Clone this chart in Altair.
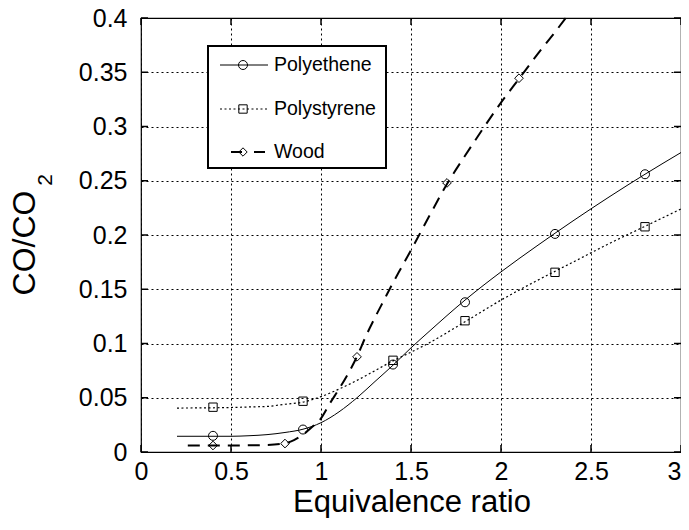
import altair as alt
import pandas as pd

# ---- fitted curves ----
pe_curve_x = [0.2, 0.5, 0.6, 0.7, 0.8, 0.9, 1.0, 1.1, 1.2, 1.3, 1.4, 1.5, 1.6, 1.8, 2.0, 2.2, 2.4, 2.6, 2.8, 3.0]
pe_curve_y = [0.0145, 0.0145, 0.015, 0.016, 0.018, 0.021, 0.027, 0.037, 0.050, 0.065, 0.080, 0.096, 0.111,
              0.140, 0.166, 0.190, 0.213, 0.235, 0.256, 0.276]

ps_curve_x = [0.2, 0.5, 0.6, 0.7, 0.8, 0.9, 1.0, 1.1, 1.2, 1.3, 1.4, 1.5, 1.6, 1.8, 2.0, 2.2, 2.4, 2.6, 2.8, 3.0]
ps_curve_y = [0.0405, 0.041, 0.0415, 0.042, 0.044, 0.046, 0.051, 0.058, 0.066, 0.075, 0.084, 0.092, 0.1005,
              0.120, 0.140, 0.158, 0.175, 0.192, 0.208, 0.224]

wd_curve_x = [0.26, 0.5, 0.7, 0.8, 0.85, 0.9, 0.95, 1.0, 1.05, 1.1, 1.15, 1.2, 1.25, 1.3, 1.35, 1.4, 1.45,
              1.5, 1.6, 1.7, 1.8, 1.9, 2.0, 2.1, 2.2, 2.3, 2.36]
wd_curve_y = [0.006, 0.006, 0.0065, 0.008, 0.011, 0.016, 0.023, 0.031, 0.045, 0.058, 0.072, 0.088, 0.107,
              0.124, 0.140, 0.156, 0.171, 0.186, 0.217, 0.247, 0.273, 0.298, 0.322, 0.344, 0.366, 0.387, 0.4]

# ---- measured points ----
pe_x = [0.4, 0.9, 1.4, 1.8, 2.3, 2.8]
pe_y = [0.0149, 0.0207, 0.0806, 0.138, 0.201, 0.256]
ps_x = [0.4, 0.9, 1.4, 1.8, 2.3, 2.8]
ps_y = [0.0413, 0.0468, 0.0845, 0.121, 0.1656, 0.2076]
wd_x = [0.4, 0.8, 1.2, 1.7, 2.1]
wd_y = [0.006, 0.0078, 0.0877, 0.248, 0.3445]

x_ticks = [0, 0.5, 1, 1.5, 2, 2.5, 3]
y_ticks = [0, 0.05, 0.1, 0.15, 0.2, 0.25, 0.3, 0.35, 0.4]

series_names = ["Polyethene", "Polystyrene", "Wood"]
y_title_main = "CO/CO"
y_title_sub = "2"
x_title = "Equivalence ratio"

W, H = 540, 434
FONT = "Liberation Sans"

x_axis = alt.Axis(values=x_ticks, format="~g", labelFontSize=25, labelFont=FONT, labelColor="black",
                  labelPadding=7, labelFlush=False, labelOverlap=False, ticks=False, tickSize=0,
                  labelAlign={"expr": "datum.value >= 3 ? 'right' : 'center'"},
                  domain=False, grid=True, gridColor="black", gridDash=[2, 3], gridWidth=1)
y_axis = alt.Axis(values=y_ticks, format="~g", labelFontSize=25, labelFont=FONT, labelColor="black",
                  labelPadding=14, labelFlush=False, labelOverlap=False, ticks=False, tickSize=0,
                  domain=False, grid=True, gridColor="black", gridDash=[2, 3], gridWidth=1)

xs = alt.Scale(domain=[0, 3], nice=False, zero=False)
ys = alt.Scale(domain=[0, 0.4], nice=False)


def X():
    return alt.X("x:Q", scale=xs, axis=x_axis, title=None)


def Y():
    return alt.Y("y:Q", scale=ys, axis=y_axis, title=None)


def df(xv, yv):
    return pd.DataFrame({"x": xv, "y": yv})


one = pd.DataFrame({"k": [0]})

pe_line = alt.Chart(df(pe_curve_x, pe_curve_y)).mark_line(
    color="black", strokeWidth=1, interpolate="monotone").encode(x=X(), y=Y())
ps_line = alt.Chart(df(ps_curve_x, ps_curve_y)).mark_line(
    color="black", strokeWidth=1.2, strokeDash=[2, 2.5], interpolate="monotone").encode(x=X(), y=Y())
wd_line = alt.Chart(df(wd_curve_x, wd_curve_y)).mark_line(
    color="black", strokeWidth=2, strokeDash=[12, 8], interpolate="monotone").encode(x=X(), y=Y())

pe_pts = alt.Chart(df(pe_x, pe_y)).mark_point(
    shape="circle", size=81, filled=False, color="black", strokeWidth=1, opacity=1).encode(x=X(), y=Y())
ps_pts = alt.Chart(df(ps_x, ps_y)).mark_point(
    shape="square", size=70, filled=False, color="black", strokeWidth=1, opacity=1).encode(x=X(), y=Y())
wd_pts = alt.Chart(df(wd_x, wd_y)).mark_point(
    shape="diamond", size=75, filled=False, color="black", strokeWidth=1, opacity=1).encode(x=X(), y=Y())

# inward ticks on all four sides
yt = pd.DataFrame({"y": y_ticks})
xt = pd.DataFrame({"x": x_ticks})
tick_l = alt.Chart(yt).mark_rule(color="black", strokeWidth=1.5).encode(
    y=Y(), x=alt.value(0), x2=alt.value(7))
tick_r = alt.Chart(yt).mark_rule(color="black", strokeWidth=1.5).encode(
    y=Y(), x=alt.value(W - 7), x2=alt.value(W))
tick_b = alt.Chart(xt).mark_rule(color="black", strokeWidth=1.5).encode(
    x=X(), y=alt.value(H), y2=alt.value(H - 7))
tick_t = alt.Chart(xt).mark_rule(color="black", strokeWidth=1.5).encode(
    x=X(), y=alt.value(0), y2=alt.value(7))

# legend box
leg_box = alt.Chart(one).mark_rect(fill="white", stroke="black", strokeWidth=2).encode(
    x=alt.value(67), x2=alt.value(245), y=alt.value(28), y2=alt.value(150))
row_y = [47, 91, 134]
leg_l1 = alt.Chart(one).mark_rule(color="black", strokeWidth=1).encode(
    x=alt.value(79), x2=alt.value(127), y=alt.value(row_y[0]))
leg_l2 = alt.Chart(one).mark_rule(color="black", strokeWidth=1.2, strokeDash=[2, 2.5]).encode(
    x=alt.value(79), x2=alt.value(127), y=alt.value(row_y[1]))
leg_l3 = alt.Chart(one).mark_rule(color="black", strokeWidth=2, strokeDash=[11, 12]).encode(
    x=alt.value(90), x2=alt.value(125), y=alt.value(row_y[2]))
leg_p1 = alt.Chart(one).mark_point(shape="circle", size=81, filled=False, color="black",
                                   strokeWidth=1, opacity=1).encode(x=alt.value(102), y=alt.value(row_y[0]))
leg_p2 = alt.Chart(one).mark_point(shape="square", size=70, filled=False, color="black",
                                   strokeWidth=1, opacity=1).encode(x=alt.value(102), y=alt.value(row_y[1]))
leg_p3 = alt.Chart(one).mark_point(shape="diamond", size=70, filled=False, color="black",
                                   strokeWidth=1, opacity=1).encode(x=alt.value(102), y=alt.value(row_y[2]))
leg_txt = alt.Chart(pd.DataFrame({"name": series_names, "ry": row_y})).mark_text(
    align="left", baseline="middle", fontSize=19.5, font=FONT, color="black").encode(
    x=alt.value(133), y=alt.Y("ry:Q", scale=None), text="name:N")

# x-axis title
xt_title = alt.Chart(pd.DataFrame({"t": [x_title]})).mark_text(
    fontSize=31, font=FONT, align="center", baseline="alphabetic", color="black").encode(
    x=alt.value(W / 2 + 1), y=alt.value(H + 60), text="t:N")

# y-axis title with subscript
yt_main = alt.Chart(pd.DataFrame({"t": [y_title_main]})).mark_text(
    angle=270, fontSize=32, font=FONT, align="center", baseline="middle", color="black").encode(
    x=alt.value(-116.5), y=alt.value(225), text="t:N")
yt_sub = alt.Chart(pd.DataFrame({"t": [y_title_sub]})).mark_text(
    angle=270, fontSize=21, font=FONT, align="center", baseline="middle", color="black").encode(
    x=alt.value(-95.5), y=alt.value(162), text="t:N")

chart = alt.layer(
    pe_line, ps_line, wd_line, pe_pts, ps_pts, wd_pts,
    tick_l, tick_r, tick_b, tick_t,
    leg_box, leg_l1, leg_l2, leg_l3, leg_p1, leg_p2, leg_p3, leg_txt,
    xt_title, yt_main, yt_sub,
).properties(
    width=W, height=H,
    autosize=alt.AutoSizeParams(type="none"),
    padding={"left": 133, "top": 10, "right": 0, "bottom": 66},
    background="white",
).configure_view(stroke="black", strokeWidth=1.2)

chart.save("out.html", embed_options={"renderer": "svg", "actions": False})
